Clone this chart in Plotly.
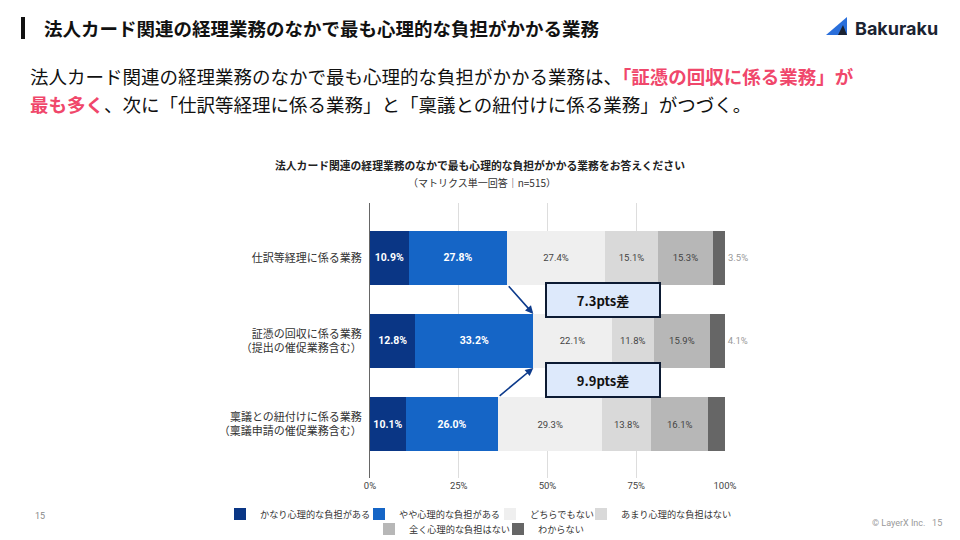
import plotly.graph_objects as go

categories = ["仕訳等経理に係る業務", "証憑の回収に係る業務<br>（提出の催促業務含む）", "稟議との紐付けに係る業務<br>（稟議申請の催促業務含む）"]
series_names = ["かなり心理的な負担がある", "やや心理的な負担がある", "どちらでもない", "あまり心理的な負担はない", "全く心理的な負担はない", "わからない"]
v_very = [10.9, 12.8, 10.1]
v_some = [27.8, 33.2, 26.0]
v_neutral = [27.4, 22.1, 29.3]
v_little = [15.1, 11.8, 13.8]
v_none = [15.3, 15.9, 16.1]
v_unknown = [3.5, 4.1, 4.7]
x_ticks = [0, 25, 50, 75, 100]
x_ticklabels = ["0%", "25%", "50%", "75%", "100%"]

series_values = [v_very, v_some, v_neutral, v_little, v_none, v_unknown]
colors = ["#0a3685", "#1565c6", "#efefef", "#d9d9d9", "#b7b7b7", "#666666"]
text_colors = ["#ffffff", "#ffffff", "#444444", "#444444", "#444444", "#999999"]
bold = [True, True, False, False, False, False]
# legend symbol centre positions (px) for each series entry
legend_pos = [(241, 514), (380, 514), (511, 514), (602, 514), (390, 529), (519, 529)]

FONT = "Noto Sans CJK JP"
NUMFONT = "Roboto"
BAR_W = 0.65

W, H = 960, 540
ML, MR, MT, MB = 370, 235, 203, 62
pw, ph = W - ML - MR, H - MT - MB

def px2x(x):
    return (x - ML) / pw

def px2y(y):
    return 1 - (y - MT) / ph

fig = go.Figure()
for i, (name, vals) in enumerate(zip(series_names, series_values)):
    fig.add_trace(go.Bar(
        y=categories, x=vals, name=name, orientation="h",
        marker=dict(color=colors[i], line=dict(width=0)),
        width=BAR_W,
        text=[f"{v:.1f}%" for v in vals],
        textposition="outside" if i == 5 else "inside",
        insidetextanchor="middle",
        textangle=0,
        constraintext="none",
        textfont=dict(color=text_colors[i], size=10.5 if bold[i] else 9.5,
                      family=NUMFONT, weight="bold" if bold[i] else "normal"),
        cliponaxis=False,
        legend="legend" if i == 0 else f"legend{i + 1}",
        hoverinfo="skip",
    ))

# arrows & difference boxes
top_sum = [a + b for a, b in zip(v_very, v_some)]
half = BAR_W / 2
ann = []
ann.append(dict(x=top_sum[1], y=1 - half, ax=top_sum[0], ay=0 + half,
                xref="x", yref="y", axref="x", ayref="y", text="",
                showarrow=True, arrowhead=2, arrowsize=1, arrowwidth=1.6, arrowcolor="#0d3b8c"))
ann.append(dict(x=top_sum[1], y=1 + half, ax=top_sum[2], ay=2 - half,
                xref="x", yref="y", axref="x", ayref="y", text="",
                showarrow=True, arrowhead=2, arrowsize=1, arrowwidth=1.6, arrowcolor="#0d3b8c"))
diffs = [top_sum[1] - top_sum[0], top_sum[1] - top_sum[2]]
for d, yy in zip(diffs, [0.51, 1.47]):
    ann.append(dict(x=65.6, y=yy, xref="x", yref="y", showarrow=False,
                    text=f"<b>{d:.1f}pts差</b>", width=110, height=30,
                    bgcolor="#dde9fb", bordercolor="#0d1b33", borderwidth=2,
                    font=dict(family=FONT, size=13, color="#111111")))

RED = "#f0476b"
px_ann = [
    dict(x=42, y=28, xanchor="left",
         text="<b>法人カード関連の経理業務のなかで最も心理的な負担がかかる業務</b>",
         font=dict(family=FONT, size=18.5, color="#111111")),
    dict(x=853, y=28, xanchor="left", text="<b>Bakuraku</b>",
         font=dict(family="Inter", size=18, color="#1b2332")),
    dict(x=28, y=76, xanchor="left",
         text="法人カード関連の経理業務のなかで最も心理的な負担がかかる業務は、"
              f"<span style='color:{RED}'><b>「証憑の回収に係る業務」が</b></span>",
         font=dict(family=FONT, size=18.5, color="#111111")),
    dict(x=28, y=104, xanchor="left",
         text=f"<span style='color:{RED}'><b>最も多く</b></span>"
              "、次に「仕訳等経理に係る業務」と「稟議との紐付けに係る業務」がつづく。",
         font=dict(family=FONT, size=18.5, color="#111111")),
    dict(x=480, y=165, xanchor="center",
         text="<b>法人カード関連の経理業務のなかで最も心理的な負担がかかる業務をお答えください</b>",
         font=dict(family=FONT, size=10.8, color="#222222")),
    dict(x=482, y=182, xanchor="center", text="（マトリクス単一回答｜n=515）",
         font=dict(family=FONT, size=10, color="#333333")),
    dict(x=40, y=516, xanchor="center", text="15",
         font=dict(family=NUMFONT, size=9, color="#888888")),
    dict(x=944, y=523, xanchor="right", text="© LayerX Inc.   15",
         font=dict(family=NUMFONT, size=9, color="#999999")),
]
for a in px_ann:
    a.update(x=px2x(a["x"]), y=px2y(a["y"]), xref="paper", yref="paper",
             showarrow=False, yanchor="middle")
    ann.append(a)

shapes = [
    dict(type="rect", xref="paper", yref="paper", x0=px2x(21), x1=px2x(25),
         y0=px2y(39), y1=px2y(17), fillcolor="#111111", line=dict(width=0)),
    dict(type="path", xref="paper", yref="paper",
         path=f"M {px2x(826)} {px2y(35)} L {px2x(847)} {px2y(17)} L {px2x(847)} {px2y(35)} Z",
         fillcolor="#2a6fdb", line=dict(width=0)),
    dict(type="path", xref="paper", yref="paper",
         path=f"M {px2x(838)} {px2y(35)} L {px2x(843)} {px2y(25)} L {px2x(847)} {px2y(35)} Z",
         fillcolor="#1b2332", line=dict(width=0)),
]

legends = {}
for i, (lx, ly) in enumerate(legend_pos):
    key = "legend" if i == 0 else f"legend{i + 1}"
    legends[key] = dict(orientation="h", xref="container", yref="container",
                        x=(lx - 21) / W, y=1 - ly / H, xanchor="left", yanchor="middle",
                        bgcolor="rgba(0,0,0,0)", borderwidth=0,
                        font=dict(family=FONT, size=9.2, color="#333333"))

fig.update_layout(
    width=W, height=H, margin=dict(l=ML, r=MR, t=MT, b=MB, autoexpand=False),
    paper_bgcolor="white", plot_bgcolor="white",
    barmode="stack", bargap=0.35,
    font=dict(family=FONT, size=10, color="#333333"),
    annotations=ann, shapes=shapes,
    xaxis=dict(range=[0, 100], tickvals=x_ticks, ticktext=x_ticklabels,
               showgrid=True, gridcolor="#dddddd", gridwidth=1, zeroline=False,
               showline=False, ticks="", tickfont=dict(family=NUMFONT, size=9.5, color="#444444")),
    yaxis=dict(type="category", categoryorder="array", categoryarray=categories,
               range=[2.65, -0.66], showline=True, linecolor="#666666", linewidth=1,
               ticks="", ticklabelstandoff=5,
               tickfont=dict(family=FONT, size=11, color="#333333")),
    showlegend=True,
    **legends,
)

fig.write_html("out.html")
